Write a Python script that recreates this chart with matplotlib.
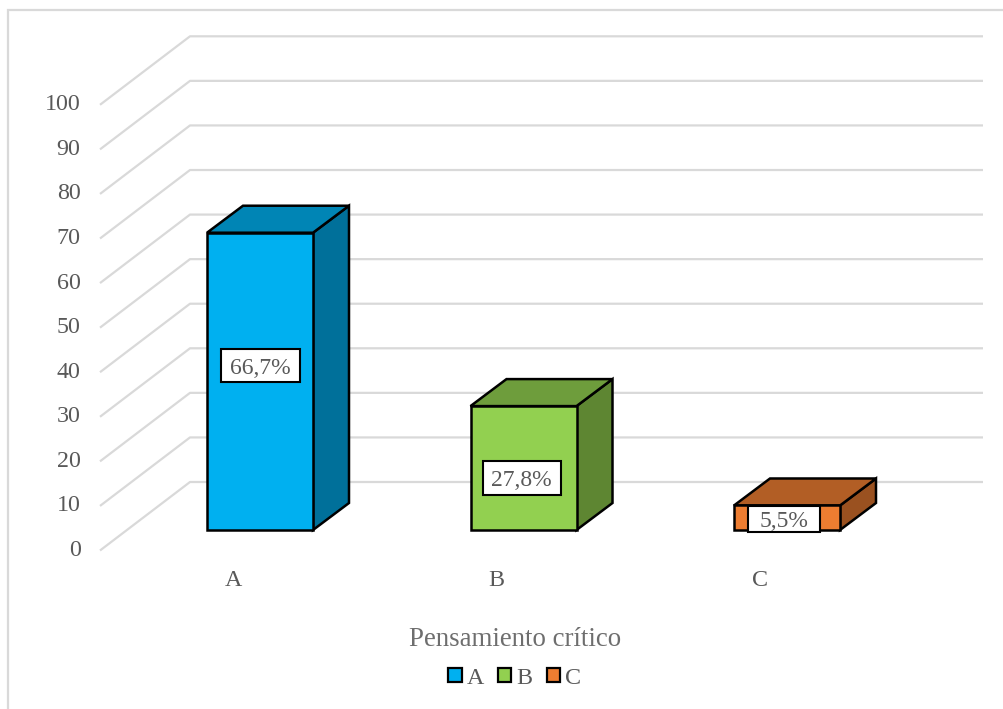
import numpy as np
import matplotlib
matplotlib.use('Agg')
import matplotlib.pyplot as plt
from matplotlib.patches import Polygon, Patch, Rectangle
from matplotlib.lines import Line2D
from matplotlib.transforms import ScaledTranslation

categories = ['A', 'B', 'C']
values = [66.7, 27.8, 5.5]
value_labels = ['66,7%', '27,8%', '5,5%']
y_ticks = [0, 10, 20, 30, 40, 50, 60, 70, 80, 90, 100]
x_title = 'Pensamiento crítico'

front_cols = ['#00B0F0', '#92D050', '#ED7D31']
top_cols = ['#0085B5', '#6E9D3C', '#B25E25']
side_cols = ['#00709A', '#5E8632', '#9A5120']

plt.rcParams['font.family'] = ['Liberation Serif', 'DejaVu Serif']
text_col = '#595959'
grid_col = '#D9D9D9'

fig = plt.figure(figsize=(10.04, 7.09), dpi=100)
ax = fig.add_axes([100/1004, 1-550.5/709, 883/1004, 514.5/709])
ax.set_xlim(-160/263.5, 723/263.5)
ax.set_ylim(0, 514.5/4.457)
for s in ax.spines.values():
    s.set_visible(False)

# size of the fake 3d, in data units
wall_dx = 90/263.5
wall_dy = 68.5/4.457
bar_w = 106/263.5
bar_dx = 36/263.5
bar_dy = 27/4.457
floor = 20.5/4.457

x_left, x_right = ax.get_xlim()
for v in y_ticks:
    ax.plot([x_left, x_left+wall_dx, x_right], [v, v+wall_dy, v+wall_dy],
            color=grid_col, lw=1.6, zorder=1, clip_on=False, solid_capstyle='butt')

# label boxes: height as a share of the bar, x shift and box size in pixels
label_frac = [0.552, 0.42, 0.45]
label_dx = [0, -2, -3]
box_w = [79, 78, 72]
box_h = [33, 34, 26]

for i, v in enumerate(values):
    x0 = i - bar_w/2
    x1 = i + bar_w/2
    y0 = floor
    y1 = floor + v
    front = [(x0, y0), (x1, y0), (x1, y1), (x0, y1)]
    top = [(x0, y1), (x1, y1), (x1+bar_dx, y1+bar_dy), (x0+bar_dx, y1+bar_dy)]
    side = [(x1, y0), (x1+bar_dx, y0+bar_dy), (x1+bar_dx, y1+bar_dy), (x1, y1)]
    for pts, c in zip([side, top, front], [side_cols[i], top_cols[i], front_cols[i]]):
        ax.add_patch(Polygon(pts, closed=True, fc=c, ec='black', lw=1.8,
                             joinstyle='miter', zorder=3))
    cx = i + label_dx[i]/263.5
    cy = floor + v*label_frac[i]
    w = box_w[i]/263.5
    h = box_h[i]/4.457
    ax.add_patch(Rectangle((cx-w/2, cy-h/2), w, h, fc='white', ec='black', lw=1.5, zorder=4))
    ax.text(cx, cy, value_labels[i], ha='center', va='center_baseline', fontsize=17,
            color=text_col, zorder=5)

ax.set_yticks(y_ticks)
ax.set_yticklabels([str(t) for t in y_ticks])
ax.set_xticks(np.arange(len(categories)) - 27/263.5)
ax.set_xticklabels(categories)
ax.tick_params(axis='y', length=0, pad=14, labelsize=17.3, labelcolor=text_col)
ax.tick_params(axis='x', length=0, pad=14, labelsize=17.3, labelcolor=text_col)
# excel puts the value labels a bit above the line ends
shift = ScaledTranslation(0, 2.5/100, fig.dpi_scale_trans)
for lab in ax.get_yticklabels():
    lab.set_transform(lab.get_transform() + shift)

ax.set_xlabel(x_title, fontsize=19.4, color='#6E6E6E')
ax.xaxis.set_label_coords((515.5-100)/883, -(639-550.5)/514.5, transform=ax.transAxes)
ax.xaxis.label.set_verticalalignment('center')

handles = [Patch(fc=c, ec='black', lw=1.6) for c in front_cols]
fig.legend(handles, categories, loc='center', bbox_to_anchor=(514.5/1004, 1-678/709),
           ncol=3, frameon=False, fontsize=17.3, labelcolor=text_col,
           handlelength=0.55, handleheight=0.55, handletextpad=0.2, columnspacing=0.6,
           borderpad=0, borderaxespad=0)

# chart area border, only left and top show
fig.add_artist(Line2D([8/1004, 8/1004, 1], [0, 1-10/709, 1-10/709],
                      color=grid_col, lw=1.6, solid_joinstyle='miter'))

fig.savefig('out.png', dpi=100)
